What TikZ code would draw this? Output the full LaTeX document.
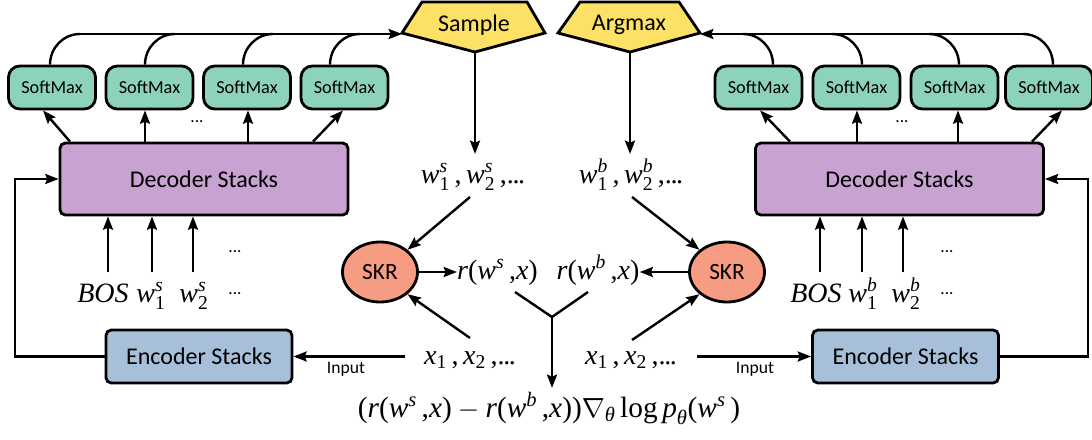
\documentclass[tikz,border=0pt]{standalone}
\usepackage{amsmath}
\usepackage{fontspec}
\setsansfont{Carlito}
\newfontfamily\tms{Liberation Serif}
\newcommand\vv[1]{\text{\tms\itshape #1}}
\newcommand\nn[1]{\text{\tms #1}}
\newcommand\dd{\text{\tms .\kern-0.05em.\kern-0.05em.}}
\usetikzlibrary{arrows.meta,calc,shapes.geometric}
\definecolor{smfill}{HTML}{8DD3BB}
\definecolor{decfill}{HTML}{C8A2D0}
\definecolor{encfill}{HTML}{A7BFD9}
\definecolor{penfill}{HTML}{FDE066}
\definecolor{skrfill}{HTML}{F69C82}
\tikzset{
  arr/.style={line width=1.8pt,-{Stealth[length=10pt,width=7.5pt,inset=1.5pt]}},
  ln/.style={line width=1.8pt},
  boxbase/.style={draw,line width=2.1pt,inner sep=0pt,font=\sffamily},
  smbox/.style={boxbase,fill=smfill,rounded corners=8.5pt,minimum width=65.25pt,minimum height=32.25pt,font=\sffamily\fontsize{13.7}{16}\selectfont},
  decbox/.style={boxbase,fill=decfill,rounded corners=4pt,minimum width=216pt,minimum height=54pt,font=\sffamily\fontsize{18}{20}\selectfont},
  encbox/.style={boxbase,fill=encfill,rounded corners=4pt,minimum width=139.5pt,minimum height=39.75pt,font=\sffamily\fontsize{18}{20}\selectfont},
  skrbox/.style={boxbase,ellipse,fill=skrfill,minimum width=56.25pt,minimum height=45pt,font=\sffamily\fontsize{17.5}{20}\selectfont},
  pent/.style={draw,line width=2.1pt,fill=penfill,line join=miter},
  pentlbl/.style={inner sep=0pt,font=\sffamily\fontsize{18}{20}\selectfont},
  mlbl/.style={inner sep=0pt,anchor=base,font=\fontsize{21}{24}\selectfont},
  small/.style={inner sep=0pt,font=\sffamily\fontsize{13.2}{15}\selectfont},
  dots/.style={inner sep=0pt,font=\sffamily\fontsize{13}{15}\selectfont}
}
\begin{document}
\begin{tikzpicture}[x=0.75pt,y=-0.75pt]
\useasboundingbox (0,0) rectangle (1092,439);
% ---------- left softmax ----------
\node[smbox] (smL1) at (52,87.5) {SoftMax};
\node[smbox] (smL2) at (149.5,87.5) {SoftMax};
\node[smbox] (smL3) at (247,87.5) {SoftMax};
\node[smbox] (smL4) at (344.5,87.5) {SoftMax};
% ---------- right softmax ----------
\node[smbox] (smR1) at (758.5,87.5) {SoftMax};
\node[smbox] (smR2) at (856.5,87.5) {SoftMax};
\node[smbox] (smR3) at (954.5,87.5) {SoftMax};
\node[smbox] (smR4) at (1049,87.5) {SoftMax};
% ---------- decoders / encoders ----------
\node[decbox] (decL) at (204,179) {Decoder Stacks};
\node[decbox] (decR) at (899.5,179) {Decoder Stacks};
\node[encbox] (encL) at (199,356.5) {Encoder Stacks};
\node[encbox] (encR) at (905.5,356.5) {Encoder Stacks};
% ---------- pentagons ----------
\draw[pent] (402,33) -- (422,2) -- (527,2) -- (545,33) -- (475,52) -- cycle;
\node[pentlbl] (sample) at (474,25) {Sample};
\coordinate (sampleL) at (402,34);
\coordinate (sampleB) at (475,52);
\draw[pent] (558,33) -- (580,2) -- (679,2) -- (700,33) -- (630,52) -- cycle;
\node[pentlbl] (argmax) at (629,25) {Argmax};
\coordinate (argmaxR) at (700,34);
\coordinate (argmaxB) at (630,52);
% ---------- SKR ----------
\node[skrbox] (skrL) at (380,272) {SKR};
\node[skrbox] (skrR) at (727,272) {SKR};
% ---------- math labels ----------
\node[mlbl] (ws) at (473,183) {$\vv{w}_{\nn{1}}^{\vv{s}}\,\nn{,}\,\vv{w}_{\nn{2}}^{\vv{s}}\,\nn{,}\dd$};
\node[mlbl] (wb) at (631,183) {$\vv{w}_{\nn{1}}^{\vv{b}}\,\nn{,}\,\vv{w}_{\nn{2}}^{\vv{b}}\,\nn{,}\dd$};
\node[mlbl] (rs) at (497.5,279) {$\vv{r}\nn{(}\vv{w}^{\vv{s}}\,\nn{,}\vv{x}\nn{)}$};
\node[mlbl] (rb) at (598,279) {$\vv{r}\nn{(}\vv{w}^{\vv{b}}\,\nn{,}\vv{x}\nn{)}$};
\node[mlbl] (xL) at (470,364) {$\vv{x}_{\nn{1}}\,\nn{,}\,\vv{x}_{\nn{2}}\,\nn{,}\dd$};
\node[mlbl] (xR) at (631,364) {$\vv{x}_{\nn{1}}\,\nn{,}\,\vv{x}_{\nn{2}}\,\nn{,}\dd$};
\node[mlbl,font=\fontsize{22}{24}\selectfont] (grad) at (549,417) {$\nn{(}\vv{r}\nn{(}\vv{w}^{\vv{s}}\,\nn{,}\vv{x}\nn{)}-\vv{r}\nn{(}\vv{w}^{\vv{b}}\,\nn{,}\vv{x}\nn{))}\nabla_{\vv{θ}}\,\nn{log}\,\vv{p}_{\vv{θ}}\nn{(}\vv{w}^{\vv{s}}\,\nn{)}$};
\node[mlbl] (bosL) at (103,302) {$\vv{BOS}$};
\node[mlbl] (w1L) at (151,302) {$\vv{w}_{\nn{1}}^{\vv{s}}$};
\node[mlbl] (w2L) at (194,302) {$\vv{w}_{\nn{2}}^{\vv{s}}$};
\node[mlbl] (bosR) at (816,302) {$\vv{BOS}$};
\node[mlbl] (w1R) at (863,302) {$\vv{w}_{\nn{1}}^{\vv{b}}$};
\node[mlbl] (w2R) at (906,302) {$\vv{w}_{\nn{2}}^{\vv{b}}$};
% ---------- dots ----------
\node[dots] (dL1) at (197,122) {...};
\node[dots] (dR1) at (902,122) {...};
\node[dots] (dL2) at (235,252) {...};
\node[dots] (dL3) at (235,294) {...};
\node[dots] (dR2) at (947,252) {...};
\node[dots] (dR3) at (947,294) {...};
% ---------- input labels ----------
\node[small] (inL) at (346,369) {Input};
\node[small] (inR) at (755,369) {Input};
% ---------- top curves left ----------
\draw[arr] (80,34) -- (sampleL);
\draw[ln] (smL1.north -| 50,0) to[out=90,in=180] (80,34);
\draw[ln] (smL2.north -| 145,0) to[out=90,in=180] (175,34);
\draw[ln] (smL3.north -| 243,0) to[out=90,in=180] (273,34);
\draw[ln] (smL4.north -| 330,0) to[out=90,in=180] (360,34);
% ---------- top curves right ----------
\draw[arr] (1023,34) -- (argmaxR);
\draw[ln] (smR1.north -| 773,0) to[out=90,in=0] (743,34);
\draw[ln] (smR2.north -| 862,0) to[out=90,in=0] (832,34);
\draw[ln] (smR3.north -| 959,0) to[out=90,in=0] (929,34);
\draw[ln] (smR4.north -| 1053,0) to[out=90,in=0] (1023,34);
% ---------- decoder -> softmax ----------
\draw[arr] (decL.north -| 70,0) -- (smL1.south -| 43,0);
\draw[arr] (decL.north -| 145,0) -- (smL2.south -| 145,0);
\draw[arr] (decL.north -| 248,0) -- (smL3.south -| 248,0);
\draw[arr] (decL.north -| 313,0) -- (smL4.south -| 343,0);
\draw[arr] (decR.north -| 790,0) -- (smR1.south -| 760,0);
\draw[arr] (decR.north -| 857,0) -- (smR2.south -| 857,0);
\draw[arr] (decR.north -| 958,0) -- (smR3.south -| 958,0);
\draw[arr] (decR.north -| 1032,0) -- (smR4.south -| 1062,0);
% ---------- inputs -> decoder ----------
\draw[arr] (108,272) -- (decL.south -| 108,0);
\draw[arr] (152,272) -- (decL.south -| 152,0);
\draw[arr] (193,272) -- (decL.south -| 193,0);
\draw[arr] (820,272) -- (decR.south -| 820,0);
\draw[arr] (862,272) -- (decR.south -| 862,0);
\draw[arr] (903,272) -- (decR.south -| 903,0);
% ---------- feedback loops ----------
\draw[arr] (encL.west) -- (15,356.5) -- (15,179) -- (decL.west);
\draw[arr] (encR.east) -- (1088,356.5) -- (1088,179) -- (decR.east);
% ---------- input arrows ----------
\draw[arr] (405,356.5) -- (encL.east);
\draw[arr] (697,356.5) -- (encR.west);
% ---------- sample/argmax down ----------
\draw[arr] (sampleB) -- (475,154);
\draw[arr] (argmaxB) -- (630,154);
% ---------- to SKR ----------
\draw[arr] (470,197) -- (skrL.north east);
\draw[arr] (470,338) -- (skrL.south east);
\draw[arr] (632,197) -- (skrR.north west);
\draw[arr] (632,340) -- (skrR.south west);
\draw[arr] (skrL.east) -- (rs.west |- skrL.east);
\draw[arr] (skrR.west) -- (rb.east |- skrR.west);
% ---------- Y merge ----------
\coordinate (yj) at (552,317);
\draw[ln] (515,292) -- (yj) -- (588,292);
\draw[arr] (yj) -- (552,388);
\end{tikzpicture}
\end{document}
